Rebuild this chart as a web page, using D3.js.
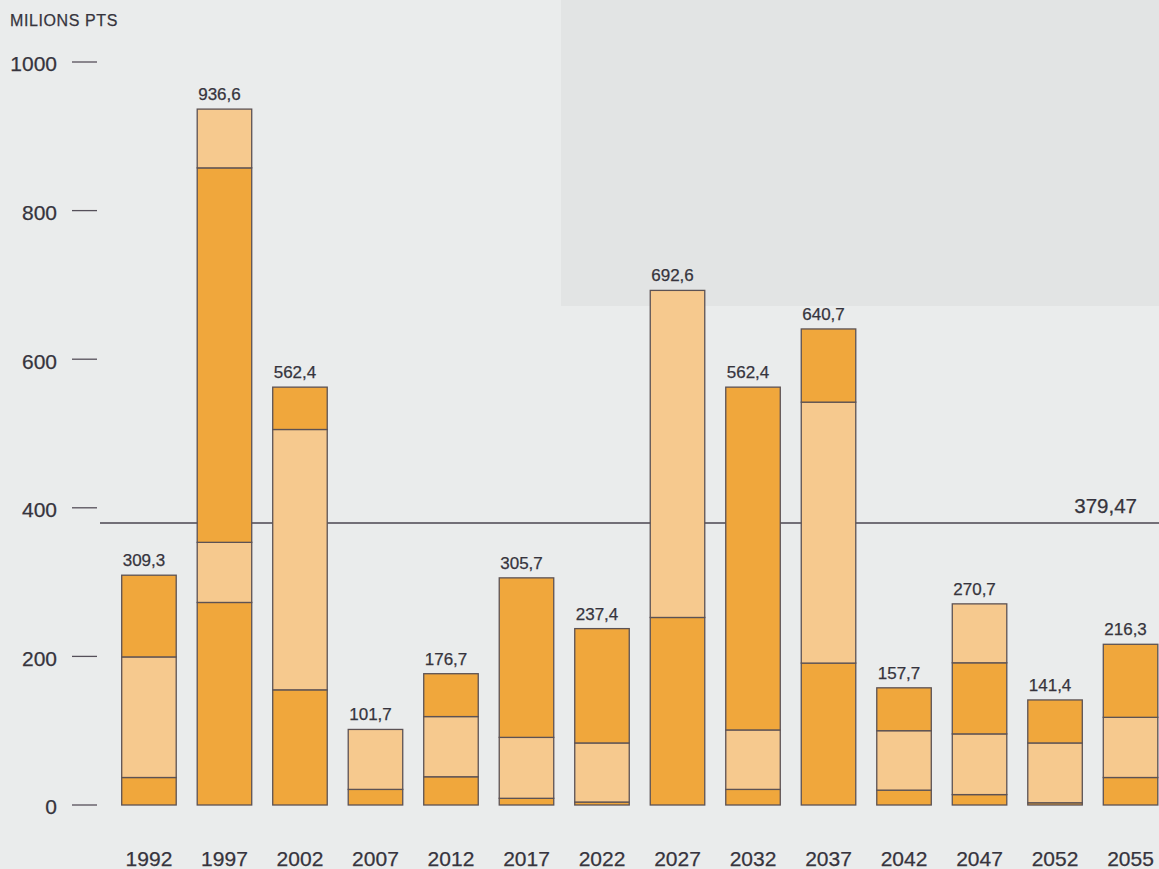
<!DOCTYPE html>
<html>
<head>
<meta charset="utf-8">
<script src="https://cdn.jsdelivr.net/npm/d3@7/dist/d3.min.js"></script>
<style>
  html, body { margin: 0; padding: 0; background: #eaecec; }
  svg { display: block; }
  text { font-family: "Liberation Sans", Arial, Helvetica, sans-serif; fill: #36343d; stroke: #36343d; stroke-width: 0.25px; }
</style>
</head>
<body>
<svg id="chart" width="1159" height="869"></svg>
<script>
// Five-year periods
const years = ["1992", "1997", "2002", "2007", "2012", "2017", "2022",
               "2027", "2032", "2037", "2042", "2047", "2052", "2055"];

// Stacked components (millions of pesetas), bottom to top
const seg1 = [37, 272.6, 155, 21, 38, 9, 4, 252.4, 21, 191, 20, 14, 3, 37];
const seg2 = [162.3, 80.9, 350.4, 80.7, 81, 82, 79.5, 440.2, 80, 351.2, 80, 81.7, 80.5, 81];
const seg3 = [110, 504, 57, 0, 57.7, 214.7, 153.9, 0, 461.4, 98.5, 57.7, 95.7, 57.9, 98.3];
const seg4 = [0, 79.1, 0, 0, 0, 0, 0, 0, 0, 0, 0, 79.3, 0, 0];

// Period totals
const totals = [309.3, 936.6, 562.4, 101.7, 176.7, 305.7, 237.4,
                692.6, 562.4, 640.7, 157.7, 270.7, 141.4, 216.3];

// Average over the whole span
const average = 379.47;

const yTicks = [0, 200, 400, 600, 800, 1000];
const unitLabel = "MILIONS PTS";

const keys = ["s1", "s2", "s3", "s4"];
const fills = { s1: "#f0a73c", s2: "#f6c98e", s3: "#f0a73c", s4: "#f6c98e" };

const rows = years.map((y, i) => ({
  year: y, s1: seg1[i], s2: seg2[i], s3: seg3[i], s4: seg4[i], total: totals[i]
}));

const svg = d3.select("#chart");
const W = 1159, H = 869;

// page tones
svg.append("rect").attr("width", W).attr("height", H).attr("fill", "#eaecec");
svg.append("rect").attr("x", 561).attr("y", 0).attr("width", W - 561).attr("height", 306)
  .attr("fill", "#e2e4e4");

const x = d3.scaleBand().domain(years).range([121.7, 1157.8])
  .paddingInner(0.278).paddingOuter(0);
const y = d3.scaleLinear().domain([0, 1000]).range([805, 62]);

const fmt = v => d3.format(".1f")(v).replace(".", ",");
const fmt2 = v => d3.format(".2f")(v).replace(".", ",");

// unit label
svg.append("text").attr("x", 10).attr("y", 26)
  .style("font-size", "16px").style("letter-spacing", "0.6px")
  .text(unitLabel);

// y axis: short dashes with numbers to the left
const yAxis = svg.append("g");
yTicks.forEach(t => {
  yAxis.append("line")
    .attr("x1", 72).attr("x2", 97)
    .attr("y1", y(t)).attr("y2", y(t))
    .attr("stroke", "#55505a").attr("stroke-width", 1.3);
  yAxis.append("text")
    .attr("x", 57).attr("y", y(t) + 2)
    .attr("dy", "0.35em").attr("text-anchor", "end")
    .style("font-size", "21px")
    .text(t);
});

// average line, behind the bars
svg.append("line")
  .attr("x1", 100).attr("x2", W)
  .attr("y1", y(average)).attr("y2", y(average))
  .attr("stroke", "#4a4650").attr("stroke-width", 1.6);
svg.append("text")
  .attr("x", 1137).attr("y", y(average) - 10)
  .attr("text-anchor", "end")
  .style("font-size", "20.5px")
  .text(fmt2(average));

// stacked bars
const series = d3.stack().keys(keys)(rows);
svg.append("g").selectAll("g")
  .data(series)
  .join("g")
  .attr("fill", d => fills[d.key])
  .selectAll("rect")
  .data(d => d.filter(p => p[1] - p[0] > 0))
  .join("rect")
  .attr("x", d => x(d.data.year))
  .attr("width", x.bandwidth())
  .attr("y", d => y(d[1]))
  .attr("height", d => y(d[0]) - y(d[1]))
  .attr("stroke", "#5c5254")
  .attr("stroke-width", 1.3);

// total labels above each bar
svg.append("g").selectAll("text")
  .data(rows)
  .join("text")
  .attr("x", d => x(d.year) + 1)
  .attr("y", d => y(d.total) - 9)
  .style("font-size", "17px")
  .text(d => fmt(d.total));

// period labels
svg.append("g").selectAll("text")
  .data(years)
  .join("text")
  .attr("x", d => x(d) + x.bandwidth() / 2)
  .attr("y", 866)
  .attr("text-anchor", "middle")
  .style("font-size", "21px")
  .text(d => d);
</script>
</body>
</html>
